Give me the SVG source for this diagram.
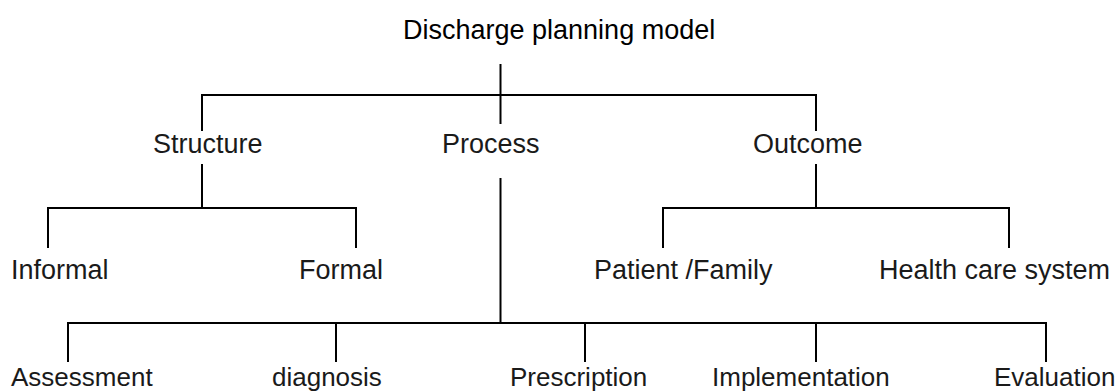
<svg xmlns="http://www.w3.org/2000/svg" width="1117" height="392" viewBox="0 0 1117 392">
  <style>
    .bg { fill: #ffffff; }
    .lbl { font-family: "Liberation Sans", Arial, sans-serif; font-size: 27px; fill: #1a1a1a; }
    .low { font-size: 26px; }
    .title { font-family: "Liberation Sans", Arial, sans-serif; font-size: 27px; fill: #000000; }
    .ln { stroke: #000000; stroke-width: 2; fill: none; stroke-linecap: butt; }
  </style>
  <rect class="bg" x="0" y="0" width="1117" height="392"/>
  <g id="connectors">
    <path class="ln" d="M500.5 64 V124"/>
    <path class="ln" d="M202 131 V95 H816 V131"/>
    <path class="ln" d="M202 164 V208"/>
    <path class="ln" d="M48 248 V208 H356 V248"/>
    <path class="ln" d="M816 164 V208"/>
    <path class="ln" d="M663 248 V208 H1009 V248"/>
    <path class="ln" d="M500.5 178 V323"/>
    <path class="ln" d="M68 362 V323 H1046 V362"/>
    <path class="ln" d="M336 323 V362"/>
    <path class="ln" d="M585 323 V362"/>
    <path class="ln" d="M816 323 V362"/>
  </g>
  <g id="title"><text class="title" x="403" y="39">Discharge planning model</text></g>
  <g id="structure"><text class="lbl" x="153" y="153">Structure</text></g>
  <g id="process"><text class="lbl" x="442" y="153">Process</text></g>
  <g id="outcome"><text class="lbl" x="753" y="153">Outcome</text></g>
  <g id="informal"><text class="lbl" x="11" y="279">Informal</text></g>
  <g id="formal"><text class="lbl" x="299" y="279">Formal</text></g>
  <g id="patient-family"><text class="lbl" x="594" y="279">Patient /Family</text></g>
  <g id="health-care-system"><text class="lbl" x="879" y="279">Health care system</text></g>
  <g id="assessment"><text class="lbl low" x="11" y="386">Assessment</text></g>
  <g id="diagnosis"><text class="lbl low" x="272" y="386">diagnosis</text></g>
  <g id="prescription"><text class="lbl low" x="510" y="386">Prescription</text></g>
  <g id="implementation"><text class="lbl low" x="712" y="386">Implementation</text></g>
  <g id="evaluation"><text class="lbl low" x="994" y="386">Evaluation</text></g>
</svg>
